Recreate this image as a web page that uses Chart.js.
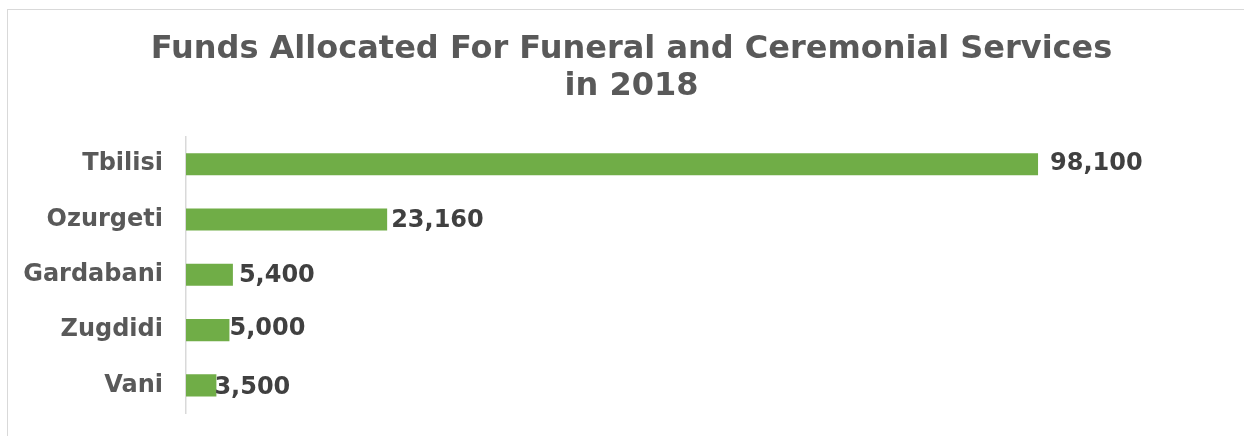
<!DOCTYPE html>
<html>
<head>
<meta charset="utf-8">
<script src="https://cdn.jsdelivr.net/npm/chart.js@4"></script>
<style>
  body { margin: 0; background: #fff; overflow: hidden; }
  #frame { position: absolute; left: 7px; top: 9px; width: 1400px; height: 600px; border: 1px solid #d9d9d9; }
  #c { position: absolute; left: 0; top: 0; }
</style>
</head>
<body>
<div id="frame"></div>
<!-- chart box runs past the right edge of the window, like the original -->
<canvas id="c" width="1280" height="436"></canvas>
<script>
const cities = ["Tbilisi", "Ozurgeti", "Gardabani", "Zugdidi", "Vani"];
const funds = [98100, 23160, 5400, 5000, 3500];

// excel placed the value labels by hand, nudge them a bit
const valueLabels = {
  id: "valueLabels",
  afterDatasetsDraw(chart) {
    const nudge = [[12, 0], [4, 1], [6, 1], [0, -1], [-2, 2]];
    const ctx = chart.ctx;
    ctx.save();
    ctx.font = "bold 24px 'DejaVu Sans'";
    ctx.fillStyle = "#404040";
    ctx.textAlign = "left";
    ctx.textBaseline = "middle";
    chart.getDatasetMeta(0).data.forEach((bar, i) => {
      const v = chart.data.datasets[0].data[i];
      ctx.fillText(v.toLocaleString("en-US"), bar.x + nudge[i][0], bar.y + nudge[i][1]);
    });
    ctx.restore();
  }
};

new Chart(document.getElementById("c"), {
  type: "bar",
  data: {
    labels: cities,
    datasets: [{
      data: funds,
      backgroundColor: "#70ad47",
      barPercentage: 0.4,
      categoryPercentage: 1.0
    }]
  },
  options: {
    indexAxis: "y",
    responsive: false,
    animation: false,
    layout: { padding: { left: 0, right: 17, bottom: 23 } },
    plugins: {
      legend: { display: false },
      tooltip: { enabled: false },
      title: {
        display: true,
        text: ["Funds Allocated For Funeral and Ceremonial Services", "in 2018"],
        color: "#595959",
        font: { family: "DejaVu Sans", size: 32, weight: "bold", lineHeight: 1.15 },
        padding: { top: 31, bottom: 32 }
      }
    },
    scales: {
      x: { display: false, min: 0, max: 124000 },
      y: {
        afterFit(scale) { scale.width = 186; },
        grid: { display: false, drawTicks: true, tickLength: 23, color: "rgba(0,0,0,0)" },
        border: { display: true, color: "#d9d9d9", width: 1.5 },
        ticks: {
          color: "#595959",
          padding: 0,
          font: { family: "DejaVu Sans", size: 24, weight: "bold" }
        }
      }
    }
  },
  plugins: [valueLabels]
});
</script>
</body>
</html>
